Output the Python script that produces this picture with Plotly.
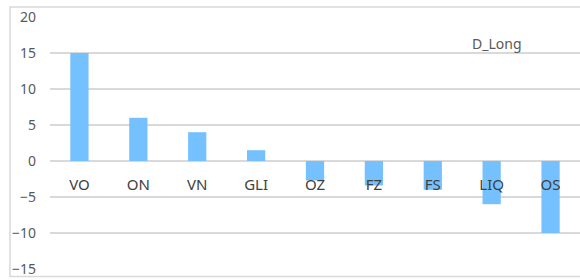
import plotly.graph_objects as go

categories = ["VO", "ON", "VN", "GLI", "OZ", "FZ", "FS", "LIQ", "OS"]
values = [15, 6, 4, 1.5, -2.7, -3.4, -4, -6, -10]
series_name = "D_Long"
y_ticks = [-15, -10, -5, 0, 5, 10, 15, 20]

ymin, ymax = -15, 20
fig = go.Figure()
fig.add_trace(go.Bar(x=categories, y=values, name=series_name,
                     marker=dict(color="#75C1FF", line=dict(width=0)),
                     width=0.31, showlegend=False))

zero_pos = (0 - ymin) / (ymax - ymin)
fig.update_layout(
    width=580, height=280,
    margin=dict(l=50, r=0, t=17, b=11),
    paper_bgcolor="white", plot_bgcolor="white",
    font=dict(family="Noto Sans, sans-serif", color="#595959", size=12),
    xaxis=dict(type="category", anchor="free", position=zero_pos,
               showgrid=False, zeroline=False, showline=False, ticks="",
               ticklabelstandoff=13, tickfont=dict(size=15, color="#404040"),
               range=[-0.5, len(categories) - 0.5]),
    yaxis=dict(range=[ymin, ymax], tickvals=y_ticks, showgrid=True,
               gridcolor="#D9D9D9", gridwidth=1.5, zeroline=True, zerolinecolor="#D9D9D9",
               zerolinewidth=1.5, showline=False, ticks="", ticklabelstandoff=13,
               tickfont=dict(size=14, color="#595959")),
    annotations=[dict(text=series_name, xref="paper", yref="paper", x=(497 - 50) / 530,
                      y=(269 - 44) / 252, xanchor="center", yanchor="middle", showarrow=False,
                      font=dict(size=14, color="#595959"))],
    shapes=[dict(type="rect", xref="paper", yref="paper",
                 x0=(10 - 50) / 530, x1=1.05, y0=-7.5 / 252, y1=1 + 10 / 252,
                 line=dict(color="#D9D9D9", width=1.5), fillcolor="rgba(0,0,0,0)", layer="below")],
)
fig.write_html("out.html", config={"displayModeBar": False},
               post_script="document.body.style.margin='0';document.body.style.overflow='hidden';")
